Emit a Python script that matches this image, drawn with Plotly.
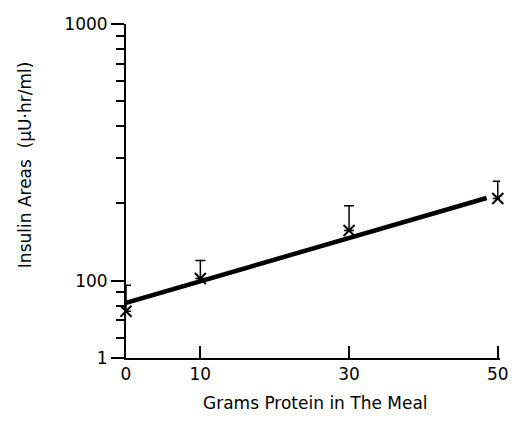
import plotly.graph_objects as go

# Data
protein_g = [0, 10, 30, 50]
insulin_area = [76, 102, 157, 209]
err_plus = [20, 18, 39, 35]

fit_x = [0, 48.5]
fit_y = [82, 210]

y_tickvals = [50, 100, 1000]
y_ticktext = ["1", "100", "1000"]
y_minor = [60, 70, 80, 90, 200, 300, 400, 500, 600, 700, 800, 900]
x_tickvals = [0, 10, 30, 50]
x_ticktext = ["0", "10", "30", "50"]

FONT = "DejaVu Sans"

fig = go.Figure()
fig.add_trace(go.Scatter(
    x=fit_x, y=fit_y, mode="lines",
    line=dict(color="black", width=4.5),
    showlegend=False, cliponaxis=False,
))
fig.add_trace(go.Scatter(
    x=protein_g, y=insulin_area, mode="markers",
    marker=dict(symbol="x-thin", size=11, color="black",
                line=dict(color="black", width=2)),
    error_y=dict(type="data", array=err_plus, arrayminus=[0] * len(err_plus),
                 symmetric=False, color="black", thickness=1.5, width=5),
    showlegend=False, cliponaxis=False,
))

fig.update_layout(
    width=521, height=421,
    margin=dict(l=126, r=13, t=24, b=63),
    paper_bgcolor="white", plot_bgcolor="white",
    font=dict(family=FONT, color="black", size=17),
    xaxis=dict(
        range=[0, 50.3], tickvals=x_tickvals, ticktext=x_ticktext,
        ticks="inside", ticklen=12, tickwidth=2, tickcolor="black",
        showline=True, linecolor="black", linewidth=2,
        showgrid=False, zeroline=False,
        tickfont=dict(family=FONT, size=17),
    ),
    yaxis=dict(
        type="log", range=[1.69897, 3],
        tickvals=y_tickvals, ticktext=y_ticktext,
        ticks="outside", ticklen=13, tickwidth=2, tickcolor="black",
        minor=dict(tickvals=y_minor, ticks="outside", ticklen=8,
                   tickwidth=2, tickcolor="black", showgrid=False),
        showline=True, linecolor="black", linewidth=2,
        showgrid=False, zeroline=False,
        tickfont=dict(family=FONT, size=17),
    ),
    annotations=[
        dict(text="Insulin Areas  (\u03bcU\u00b7hr/ml)", xref="paper", yref="paper",
             x=-126/382 + 23/382, y=(358 - 165) / 334, xanchor="center", yanchor="middle",
             textangle=-90, showarrow=False, font=dict(family=FONT, size=17)),
        dict(text="Grams Protein in The Meal", xref="paper", yref="paper",
             x=(320 - 126) / 382, y=-(403 - 358) / 334, xanchor="center", yanchor="middle",
             showarrow=False, font=dict(family=FONT, size=17)),
    ],
)

fig.write_html("out.html", config={"displayModeBar": False},
               post_script="document.body.style.margin='0';document.body.style.overflow='hidden';")
